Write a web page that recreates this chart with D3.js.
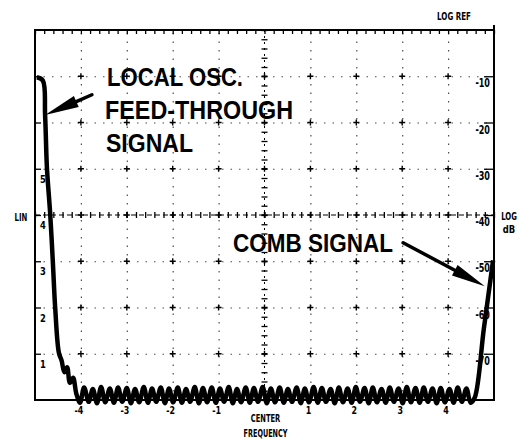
<!DOCTYPE html>
<meta charset="utf-8">
<style>
  body { margin: 0; background: #fff; }
  svg { display: block; font-family: "DejaVu Sans Condensed", "Liberation Sans Narrow", sans-serif; font-weight: bold; }
  .grid line { stroke: #000; stroke-width: 1.2; stroke-dasharray: 1.5,7; opacity: .7; }
  .grid path, .ticks path { display: none; }
  .ticks line { stroke: #000; stroke-width: 1.3; }
  .big { font-family: "Liberation Sans", Arial, sans-serif; font-weight: bold; }
</style>
<body>
<script src="https://d3js.org/d3.v7.min.js"></script>
<script>
// axis labels
var freqTicks = [-4, -3, -2, -1, 1, 2, 3, 4];
var freqLabels = ["-4", "-3", "-2", "-1", "1", "2", "3", "4"];
var linTicks = [1, 2, 3, 4, 5];
var linLabels = ["1", "2", "3", "4", "5"];
var logTicks = [-10, -20, -30, -40, -50, -60, -70];
var logLabels = ["-10", "-20", "-30", "-40", "-50", "-60", "-70"];

// trace: frequency in divisions from center, level in dB below LOG REF
var traceFreq = [
  -4.96, -4.83, -4.78, -4.74, -4.67, -4.61, -4.56, -4.48, -4.42, -4.36, -4.30, -4.24, -4.17, -4.10,
  -4.02, -3.93, -3.83, -3.74, -3.65, -3.56, -3.47, -3.37, -3.28, -3.19,
  -3.10, -3.00, -2.91, -2.82, -2.73, -2.63, -2.54, -2.45, -2.36, -2.26,
  -2.17, -2.08, -1.99, -1.89, -1.80, -1.71, -1.62, -1.52, -1.43, -1.34,
  -1.25, -1.15, -1.06, -0.97, -0.88, -0.78, -0.69, -0.60, -0.51, -0.41,
  -0.32, -0.23, -0.14, -0.04, 0.05, 0.14, 0.23, 0.33, 0.42, 0.51,
  0.60, 0.70, 0.79, 0.88, 0.97, 1.07, 1.16, 1.25, 1.34, 1.44,
  1.53, 1.62, 1.71, 1.81, 1.90, 1.99, 2.08, 2.18, 2.27, 2.36,
  2.45, 2.55, 2.64, 2.73, 2.82, 2.92, 3.01, 3.10, 3.19, 3.29,
  3.38, 3.47, 3.56, 3.66, 3.75, 3.84, 3.93, 4.03, 4.12, 4.21,
  4.30, 4.40, 4.49,
  4.58, 4.78, 4.98
];
var traceDb = [
  -10.2, -10.9, -18.4, -29.8, -39.6, -50.4, -60.1, -69.8, -71.5, -74.0, -72.9, -76.3, -75.2, -78.6,
  -80.6, -77.3, -80.4, -77.6, -80.7, -77.2, -80.5, -77.5, -80.6, -77.3,
  -80.4, -77.4, -80.7, -77.6, -80.5, -77.2, -80.6, -77.5, -80.4, -77.3,
  -80.7, -77.5, -80.5, -77.3, -80.6, -77.6, -80.4, -77.2, -80.7, -77.4,
  -80.5, -77.3, -80.6, -77.5, -80.4, -77.2, -80.7, -77.6, -80.5, -77.3,
  -80.6, -77.4, -80.4, -77.2, -80.7, -77.5, -80.5, -77.3, -80.6, -77.6,
  -80.4, -77.3, -80.7, -77.5, -80.5, -77.2, -80.6, -77.4, -80.4, -77.6,
  -80.7, -77.3, -80.5, -77.5, -80.6, -77.2, -80.4, -77.4, -80.7, -77.3,
  -80.5, -77.6, -80.6, -77.3, -80.4, -77.5, -80.7, -77.2, -80.5, -77.4,
  -80.6, -77.3, -80.4, -77.5, -80.7, -77.4, -80.5, -77.6, -80.6, -77.3,
  -80.4, -77.5, -80.6,
  -79.5, -64.5, -49.8
];

// annotation arrows, [freq, dB] of tail and tip
var loArrow = [[-3.76, -14.0], [-4.78, -18.4]];
var combArrow = [[3.02, -46.0], [4.80, -55.4]];

var W = 522, H = 443;
var plotL = 35, plotR = 494, plotT = 30, plotB = 400;

var x = d3.scaleLinear().domain([-5, 5]).range([plotL, plotR]);
var y = d3.scaleLinear().domain([-80, 0]).range([plotB, plotT]);
var lin = d3.scaleLinear().domain([0, 8]).range([plotB, plotT]);

var svg = d3.select("body").append("svg")
    .attr("width", W)
    .attr("height", H);

// dotted graticule
svg.append("g")
    .attr("class", "grid")
    .attr("transform", "translate(0," + plotB + ")")
    .call(d3.axisBottom(x).tickValues(freqTicks).tickSize(-(plotB - plotT)).tickFormat(""));
svg.append("g")
    .attr("class", "grid")
    .attr("transform", "translate(" + plotL + ",0)")
    .call(d3.axisLeft(y).tickValues(logTicks.filter(function(v) { return v !== -40; })).tickSize(-(plotR - plotL)).tickFormat(""));

// crosses on the intersections
var cross = [];
freqTicks.concat([0]).forEach(function(f) {
  logTicks.forEach(function(v) { cross.push([f, v]); });
});
svg.append("g").selectAll("path")
    .data(cross)
    .enter().append("path")
    .attr("d", function(d) { return "M" + (x(d[0]) - 3) + "," + y(d[1]) + "h6M" + x(d[0]) + "," + (y(d[1]) - 3) + "v6"; })
    .attr("stroke", "#000")
    .attr("stroke-width", 1.4);

// center lines with minor ticks
svg.append("line")
    .attr("x1", plotL).attr("x2", plotR)
    .attr("y1", y(-40)).attr("y2", y(-40))
    .attr("stroke", "#000").attr("stroke-width", 1.2).attr("stroke-dasharray", "5,3");
svg.append("line")
    .attr("x1", x(0)).attr("x2", x(0))
    .attr("y1", plotT).attr("y2", plotB)
    .attr("stroke", "#000").attr("stroke-width", 1).attr("stroke-dasharray", "2,4");
svg.append("g")
    .attr("class", "ticks")
    .attr("transform", "translate(0," + (y(-40) - 3) + ")")
    .call(d3.axisBottom(x).ticks(50).tickSize(6).tickFormat(""));
svg.append("g")
    .attr("class", "ticks")
    .attr("transform", "translate(" + (x(0) - 3) + ",0)")
    .call(d3.axisRight(y).ticks(40).tickSize(6).tickFormat(""));
svg.append("g")
    .attr("class", "ticks")
    .attr("transform", "translate(0," + plotT + ")")
    .call(d3.axisBottom(x).ticks(50).tickSize(4).tickFormat(""));
svg.append("g")
    .attr("class", "ticks")
    .attr("transform", "translate(" + plotL + ",0)")
    .call(d3.axisRight(y).tickValues(logTicks).tickSize(6).tickFormat(""));
svg.append("g")
    .attr("class", "ticks")
    .attr("transform", "translate(" + plotR + ",0)")
    .call(d3.axisLeft(y).tickValues(logTicks).tickSize(10).tickFormat(""));

// frame
svg.append("rect")
    .attr("x", plotL).attr("y", plotT)
    .attr("width", plotR - plotL).attr("height", plotB - plotT)
    .attr("fill", "none").attr("stroke", "#000").attr("stroke-width", 2);
svg.append("line")
    .attr("x1", plotR).attr("x2", plotR).attr("y1", plotT - 5).attr("y2", plotT)
    .attr("stroke", "#000").attr("stroke-width", 2);

// text helper, squeezed horizontally like the stencil lettering
function label(txt, px, py, size, sx, anchor) {
  svg.append("text")
      .attr("transform", "translate(" + px + "," + py + ") scale(" + sx + ",1)")
      .attr("font-size", size)
      .attr("text-anchor", anchor || "middle")
      .text(txt);
}

// scale labels
linTicks.forEach(function(v, i) { label(linLabels[i], plotL + 8, lin(v) + 14, 11, 0.85); });
logTicks.forEach(function(v, i) { label(logLabels[i], plotR - 4, y(v) + 11, 12, 0.75, "end"); });
freqTicks.forEach(function(v, i) { label(freqLabels[i], x(v) - 2, plotB + 14, 11, 0.8); });

label("CENTER", x(0) + 1, 422, 10, 0.75);
label("FREQUENCY", x(0) + 1, 437, 10, 0.72);
label("LOG REF", 454, 20, 11, 0.72);
label("LIN", 21, 221, 11, 0.7);
label("LOG", 509, 220, 11, 0.7);
label("dB", 509, 233, 11, 0.85);

// trace
var line = d3.line()
    .x(function(d) { return x(d[0]); })
    .y(function(d) { return y(d[1]); })
    .curve(d3.curveCatmullRom.alpha(0.5));
svg.append("path")
    .datum(traceFreq.map(function(f, i) { return [f, traceDb[i]]; }))
    .attr("d", line)
    .attr("fill", "none")
    .attr("stroke", "#000")
    .attr("stroke-width", 4.5)
    .attr("stroke-linejoin", "round");

// arrows
function arrow(a) {
  var x0 = x(a[0][0]), y0 = y(a[0][1]), x1 = x(a[1][0]), y1 = y(a[1][1]);
  var dx = x1 - x0, dy = y1 - y0, len = Math.sqrt(dx * dx + dy * dy);
  var ux = dx / len, uy = dy / len, hl = 34, hw = 6;
  var bx = x1 - ux * hl, by = y1 - uy * hl;
  svg.append("line")
      .attr("x1", x0).attr("y1", y0).attr("x2", bx).attr("y2", by)
      .attr("stroke", "#000").attr("stroke-width", 3.5).attr("stroke-linecap", "round");
  svg.append("path")
      .attr("d", "M" + x1 + "," + y1 +
                 "L" + (bx - uy * hw) + "," + (by + ux * hw) +
                 "L" + (bx + uy * hw) + "," + (by - ux * hw) + "Z")
      .attr("fill", "#000");
}
arrow(loArrow);
arrow(combArrow);

// annotations
function big(txt, px, py, w) {
  svg.append("text")
      .attr("class", "big")
      .attr("x", px).attr("y", py)
      .attr("font-size", 26)
      .attr("textLength", w)
      .attr("lengthAdjust", "spacingAndGlyphs")
      .text(txt);
}
big("LOCAL OSC.", 107, 86, 136);
big("FEED-THROUGH", 105, 119, 188);
big("SIGNAL", 106, 152, 87);
big("COMB SIGNAL", 233, 252, 160);
</script>
</body>
